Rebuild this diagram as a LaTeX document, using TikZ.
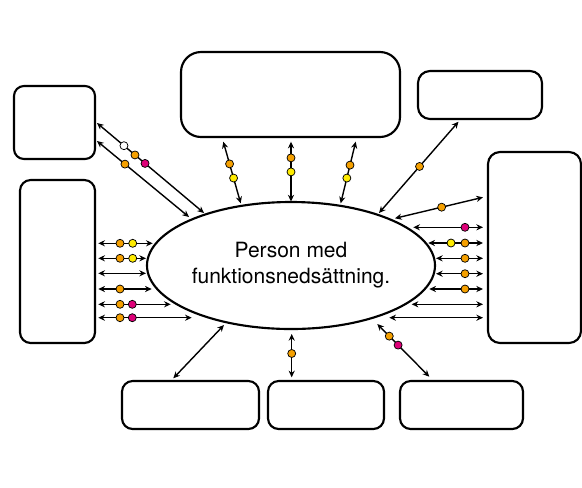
\documentclass[tikz,border=0pt]{standalone}
\usepackage{fontspec}
\setmainfont{TeX Gyre Heros}
\usetikzlibrary{arrows.meta,shapes.geometric,fit}
\definecolor{dorange}{RGB}{245,160,0}
\definecolor{dyellow}{RGB}{255,236,0}
\definecolor{dmagenta}{RGB}{222,0,120}
\begin{document}
\begin{tikzpicture}[x=0.75pt,y=-0.75pt,
  box/.style={draw, line width=1.6pt, inner sep=0pt},
  bi/.style={{Stealth[length=5pt,width=4.6pt]}-{Stealth[length=5pt,width=4.6pt]}, line width=1.05pt},
  dot/.style={circle, draw, line width=0.55pt, inner sep=0pt, minimum size=6pt},
  od/.style={dot, fill=dorange},
  yd/.style={dot, fill=dyellow},
  md/.style={dot, fill=dmagenta},
  wd/.style={dot, fill=white}]
\useasboundingbox (0,0) rectangle (582,487);

% boxes
\node[box, rounded corners=7.5pt, fit={(14,86)(95,159)}] (b1) {};
\node[box, rounded corners=8pt, fit={(20,180)(95,343)}] (b2) {};
\node[box, rounded corners=15pt, fit={(181,52)(400,137)}] (b3) {};
\node[box, rounded corners=9pt, fit={(418,71)(542,119)}] (b4) {};
\node[box, rounded corners=9pt, fit={(488,152)(581,343)}] (b5) {};
\node[box, rounded corners=8pt, fit={(122,381)(259,429)}] (b6) {};
\node[box, rounded corners=8pt, fit={(268,381)(384,429)}] (b7) {};
\node[box, rounded corners=8pt, fit={(400,381)(523,429)}] (b8) {};

% centre ellipse
\node[ellipse, draw, line width=1.6pt, minimum width=216pt, minimum height=95.25pt,
  inner sep=0pt, align=center, font=\fontsize{15.75pt}{19.5pt}\selectfont] (p) at (291,265.5)
  {Person med\\funktionsnedsättning.};

% end points
\coordinate (a1s) at (97,123);   \coordinate (a1e) at (204,213);
\coordinate (a2s) at (97,141);   \coordinate (a2e) at (189,217);
\coordinate (t1s) at (223.3,141.7); \coordinate (t1e) at (240.7,203.3);
\coordinate (t2s) at (291,141.7);   \coordinate (t2e) at (291,201.5);
\coordinate (t3s) at (355.7,141.7); \coordinate (t3e) at (340.7,203.3);
\coordinate (trs) at (458.5,121.7); \coordinate (tre) at (379,213);
\coordinate (r0s) at (395,218.3);   \coordinate (r0e) at (483,197.3);
\coordinate (r1s) at (413.3,227.3); \coordinate (r1e) at (483,227.3);
\coordinate (r2s) at (428.3,243);   \coordinate (r2e) at (483,243);
\coordinate (r3s) at (436,258.3);   \coordinate (r3e) at (483,258.3);
\coordinate (r4s) at (436,273.7);   \coordinate (r4e) at (483,273.7);
\coordinate (r5s) at (429.3,289);   \coordinate (r5e) at (483,289);
\coordinate (r6s) at (411.7,304.3); \coordinate (r6e) at (483,304.3);
\coordinate (r7s) at (389.3,317.7); \coordinate (r7e) at (483,317.7);
\coordinate (l1s) at (98.3,243.3);  \coordinate (l1e) at (152.7,243.3);
\coordinate (l2s) at (98.3,258.3);  \coordinate (l2e) at (146,258.3);
\coordinate (l3s) at (98.3,273.3);  \coordinate (l3e) at (146,273.3);
\coordinate (l4s) at (98.3,289);    \coordinate (l4e) at (151.7,289);
\coordinate (l5s) at (98.3,304.3);  \coordinate (l5e) at (170.7,304.3);
\coordinate (l6s) at (98.3,317.7);  \coordinate (l6e) at (191.7,317.7);
\coordinate (bo1s) at (173.3,378.3); \coordinate (bo1e) at (224,325);
\coordinate (bo2s) at (291.7,334);   \coordinate (bo2e) at (291.7,377.3);
\coordinate (bo3s) at (377.3,324);   \coordinate (bo3e) at (429.3,376.7);

% connectors
\draw[bi] (a1s) -- node[wd,pos=0.252] (da1) {} node[od,pos=0.355] (da2) {} node[md,pos=0.449] (da3) {} (a1e);
\draw[bi] (a2s) -- node[od,pos=0.304] (da4) {} (a2e);
\draw[bi] (t1s) -- node[od,pos=0.36] (dt1) {} node[yd,pos=0.59] (dt2) {} (t1e);
\draw[bi] (t2s) -- node[od,pos=0.27] (dt3) {} node[yd,pos=0.505] (dt4) {} (t2e);
\draw[bi] (t3s) -- node[od,pos=0.38] (dt5) {} node[yd,pos=0.59] (dt6) {} (t3e);
\draw[bi] (trs) -- node[od,pos=0.49] (dtr) {} (tre);
\draw[bi] (r0s) -- node[od,pos=0.53] (dr0) {} (r0e);
\draw[bi] (r1s) -- (r1e);
\draw[bi] (r2s) -- (r2e);
\draw[bi] (r3s) -- (r3e);
\draw[bi] (r4s) -- (r4e);
\draw[bi] (r5s) -- (r5e);
\draw[bi] (r6s) -- (r6e);
\draw[bi] (r7s) -- (r7e);
\draw[bi] (l1s) -- (l1e);
\draw[bi] (l2s) -- (l2e);
\draw[bi] (l3s) -- (l3e);
\draw[bi] (l4s) -- (l4e);
\draw[bi] (l5s) -- (l5e);
\draw[bi] (l6s) -- (l6e);
\draw[bi] (bo1s) -- (bo1e);
\draw[bi] (bo2s) -- node[od,pos=0.45] (dbo2) {} (bo2e);
\draw[bi] (bo3s) -- node[od,pos=0.23] (dbo3a) {} node[md,pos=0.40] (dbo3b) {} (bo3e);

% dots on horizontal rows
\node[md] (dr1) at (465,227.3) {};
\node[yd] (dr2a) at (451,243) {};
\node[od] (dr2b) at (465,243) {};
\node[od] (dr3) at (465,258.3) {};
\node[od] (dr4) at (465,273.7) {};
\node[od] (dr5) at (465,289) {};
\node[od] (dl1a) at (120,243.3) {};
\node[yd] (dl1b) at (132.7,243.3) {};
\node[od] (dl2a) at (120,258.3) {};
\node[yd] (dl2b) at (132.7,258.3) {};
\node[od] (dl4) at (120,289) {};
\node[od] (dl5a) at (120,304.3) {};
\node[md] (dl5b) at (132.3,304.3) {};
\node[od] (dl6a) at (120,317.7) {};
\node[md] (dl6b) at (132.3,317.7) {};
\end{tikzpicture}
\end{document}
